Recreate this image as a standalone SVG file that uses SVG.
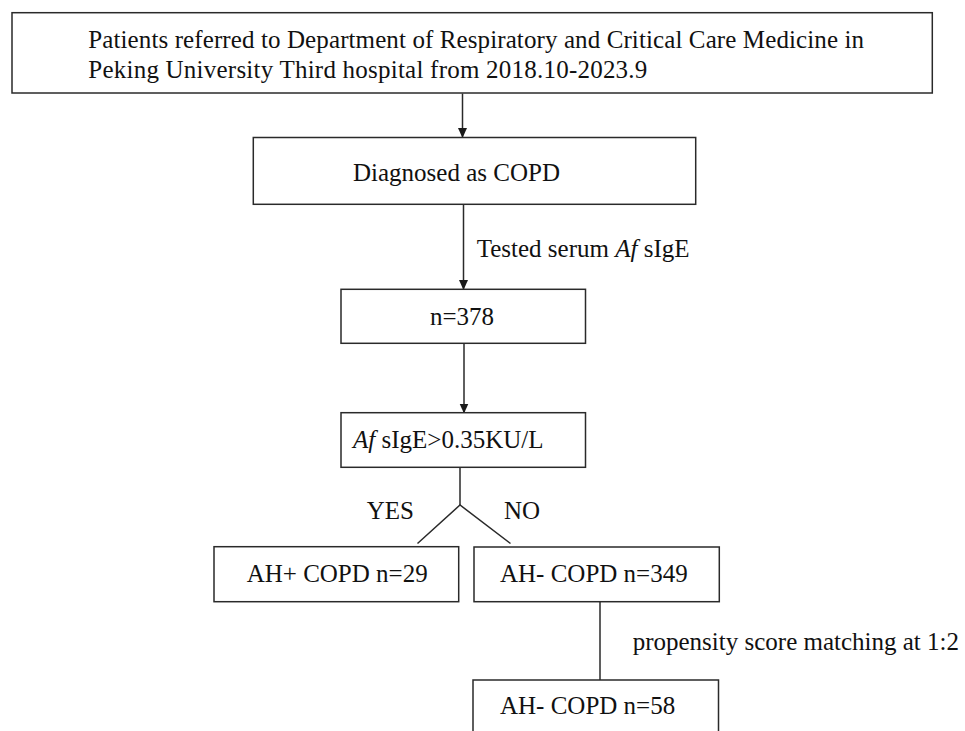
<svg xmlns="http://www.w3.org/2000/svg" width="965" height="731" viewBox="0 0 965 731">
<defs>
<style>
.box{fill:#fff;stroke:#2a2a2a;stroke-width:1.5}
.ln{fill:none;stroke:#2a2a2a;stroke-width:1.5}
text{font-family:"Liberation Serif","Times New Roman",serif;font-size:25px;fill:#111}
.it{font-style:italic}
</style>
<marker id="ahd" markerUnits="userSpaceOnUse" markerWidth="10" markerHeight="10" refX="9" refY="5" orient="auto" viewBox="0 0 10 10">
<path d="M0,0.5 L10,5 L0,9.5 Z" fill="#1a1a1a"/>
</marker>
</defs>
<rect width="965" height="731" fill="#fff"/>
<g id="connectors">
<line class="ln" x1="462.5" y1="93.5" x2="462.5" y2="137" marker-end="url(#ahd)"/>
<line class="ln" x1="463.5" y1="204.5" x2="463.5" y2="289" marker-end="url(#ahd)"/>
<line class="ln" x1="464" y1="343.5" x2="464" y2="412.5" marker-end="url(#ahd)"/>
<polyline class="ln" points="417.5,543.5 460,505 510.5,543.5"/>
<line class="ln" x1="460" y1="467.5" x2="460" y2="505"/>
<line class="ln" x1="600" y1="601.7" x2="600" y2="680"/>
<text x="476.7" y="257">Tested serum <tspan class="it">Af</tspan> sIgE</text>
<text x="366.7" y="518.5">YES</text>
<text x="504" y="518.5">NO</text>
<text x="632.7" y="649.5">propensity score matching at 1:2</text>
</g>
<g id="n_referred">
<rect class="box" x="12" y="12.7" width="920.3" height="80.3"/>
<text x="88.3" y="47.5" textLength="775.7" lengthAdjust="spacing">Patients referred to Department of Respiratory and Critical Care Medicine in</text>
<text x="88.3" y="77.5" textLength="559" lengthAdjust="spacing">Peking University Third hospital from 2018.10-2023.9</text>
</g>
<g id="n_copd">
<rect class="box" x="253.3" y="137.5" width="442.4" height="66.8"/>
<text x="353" y="180.5">Diagnosed as COPD</text>
</g>
<g id="n_378">
<rect class="box" x="341" y="289.3" width="244.5" height="54"/>
<text x="430" y="325">n=378</text>
</g>
<g id="n_af">
<rect class="box" x="341" y="412.7" width="244.5" height="54.6"/>
<text x="353" y="448"><tspan class="it">Af</tspan> sIgE&gt;0.35KU/L</text>
</g>
<g id="n_ahpos">
<rect class="box" x="214" y="546.7" width="244.7" height="55"/>
<text x="246.7" y="582">AH+ COPD n=29</text>
</g>
<g id="n_ahneg">
<rect class="box" x="474" y="547" width="245.3" height="54.7"/>
<text x="500" y="582">AH- COPD n=349</text>
</g>
<g id="n_ahneg58">
<rect class="box" x="473" y="680" width="245.5" height="70"/>
<text x="500" y="714">AH- COPD n=58</text>
</g>
</svg>
